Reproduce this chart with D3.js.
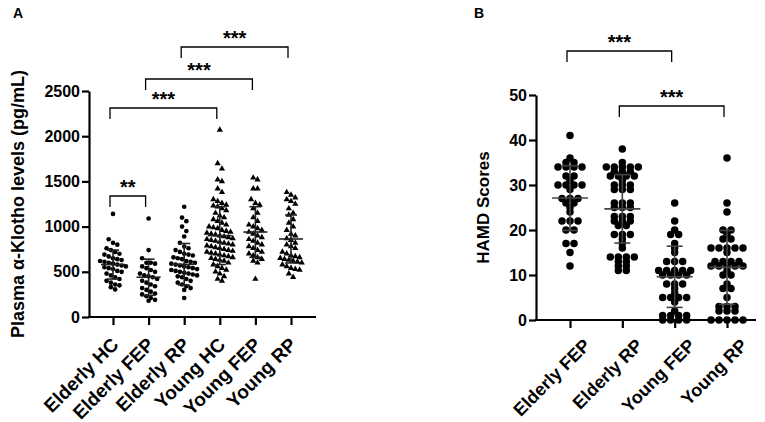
<!DOCTYPE html>
<html>
<head>
<meta charset="utf-8">
<script src="https://cdn.jsdelivr.net/npm/d3@7"></script>
<style>
body { margin: 0; background: #fff; }
#canvas { width: 765px; height: 422px; }
svg text { font-family: "Liberation Sans", Arial, sans-serif; font-weight: bold; fill: #000; }
</style>
</head>
<body>
<div id="canvas" class="canvas"></div>
<script>
//Data
//Panel A: plasma a-Klotho (pg/mL)
var groupsA = ["Elderly HC", "Elderly FEP", "Elderly RP", "Young HC", "Young FEP", "Young RP"];
var klothoElderlyHC = [1140, 860, 820, 800, 760, 740, 720, 700, 690, 670, 650, 640, 630, 620, 610, 600, 590,
	580, 570, 560, 550, 540, 530, 510, 500, 480, 460, 440, 420, 400, 380, 360, 350, 330, 305];
var klothoElderlyFEP = [1090, 740, 650, 600, 600, 590, 560, 540, 520, 500, 480, 460, 450, 440, 420, 400, 380,
	360, 340, 320, 300, 280, 260, 250, 230, 210, 190, 180];
var klothoElderlyRP = [1220, 1100, 1060, 1000, 950, 890, 820, 780, 760, 740, 720, 700, 690, 680, 660, 650, 640,
	620, 610, 600, 590, 580, 570, 560, 550, 540, 530, 520, 510, 500, 490, 480, 470, 460, 450, 440, 420, 400,
	380, 360, 340, 320, 300, 210];
var klothoYoungHC = [2070, 1700, 1640, 1520, 1500, 1420, 1380, 1300, 1280, 1260, 1240, 1230, 1220, 1200, 1180,
	1150, 1120, 1100, 1080, 1060, 1040, 1020, 1000, 990, 980, 960, 950, 940, 930, 920, 910, 900, 890, 880, 870,
	860, 850, 840, 830, 820, 810, 800, 790, 780, 770, 760, 750, 740, 730, 720, 710, 700, 690, 680, 670, 660,
	650, 640, 630, 620, 600, 580, 560, 540, 520, 500, 480, 450, 420, 400];
var klothoYoungFEP = [1540, 1520, 1420, 1420, 1300, 1260, 1240, 1200, 1150, 1100, 1060, 1020, 1000, 980, 960,
	940, 920, 900, 880, 860, 840, 820, 800, 780, 760, 740, 720, 700, 680, 660, 640, 620, 600, 420];
var klothoYoungRP = [1380, 1350, 1320, 1300, 1280, 1250, 1200, 1150, 1130, 1080, 1040, 1000, 960, 920, 900, 870,
	850, 820, 800, 780, 760, 720, 700, 680, 670, 660, 650, 640, 630, 620, 610, 600, 580, 560, 540, 530, 520,
	480, 440];
var meansA = [580, 440, 583, 900, 940, 863];
var sdsA = [160, 200, 230, 320, 280, 265];
var yTicksA = [0, 500, 1000, 1500, 2000, 2500];
var compA = [["Elderly HC", "Elderly FEP", "**"], ["Elderly HC", "Young HC", "***"],
	["Elderly FEP", "Young FEP", "***"], ["Elderly RP", "Young RP", "***"]];

//Panel B: HAMD scores
var groupsB = ["Elderly FEP", "Elderly RP", "Young FEP", "Young RP"];
var hamdElderlyFEP = [41, 36, 35, 35, 34, 34, 34, 34, 32, 32, 31, 30, 30, 30, 30, 29, 27, 27, 27, 26, 26, 25,
	24, 22, 22, 22, 20, 20, 17, 17, 15, 12];
var hamdElderlyRP = [38, 35, 34, 34, 34, 34, 34, 33, 33, 33, 32, 32, 32, 32, 31, 30, 30, 30, 29, 29, 29, 26,
	26, 26, 25, 25, 25, 23, 23, 23, 22, 22, 22, 21, 21, 19, 19, 19, 18, 17, 16, 14, 14, 14, 14, 13, 13, 12, 12,
	11, 11];
var hamdYoungFEP = [26, 22, 20, 19, 19, 17, 16, 15, 13, 13, 13, 11, 11, 11, 11, 11, 10, 10, 10, 10, 8, 8, 8, 7,
	6, 5, 5, 5, 5, 4, 2, 1, 1, 1, 1, 0, 0, 0, 0];
var hamdYoungRP = [36, 26, 24, 20, 20, 19, 18, 18, 16, 16, 16, 16, 16, 15, 13, 13, 13, 13, 12, 12, 12, 12, 12,
	11, 10, 10, 8, 7, 7, 5, 3, 3, 3, 2, 2, 2, 0, 0, 0, 0, 0];
var meansB = [27.1, 24.7, 9.6, 11.7];
var sdsB = [7.2, 7.6, 6.8, 8.2];
var yTicksB = [0, 10, 20, 30, 40, 50];
var compB = [["Elderly FEP", "Young FEP", "***"], ["Elderly RP", "Young RP", "***"]];

var valuesA = [klothoElderlyHC, klothoElderlyFEP, klothoElderlyRP, klothoYoungHC, klothoYoungFEP, klothoYoungRP];
var valuesB = [hamdElderlyFEP, hamdElderlyRP, hamdYoungFEP, hamdYoungRP];

var w = 765, h = 422;

var paper = d3.select(".canvas")
	.append("svg")
	.attr("width", w)
	.attr("height", h);

//column scatter like Prism: points that fall in the same pixel row sit side by side, centred
function columnScatter(values, y, cx, step, binH) {
	var rows = [], cur = null, out = [];
	values.slice().sort(d3.descending).forEach(function(v) {
		var py = y(v);
		if (!cur || py - cur.y0 > binH) {
			cur = {y0: py, pts: []};
			rows.push(cur);
		}
		cur.pts.push(py);
	});
	rows.forEach(function(r, ri) {
		var n = r.pts.length;
		r.pts.forEach(function(py, j) {
			out.push({x: cx + (j - (n - 1) / 2) * step, y: py});
		});
	});
	return out;
}

function drawPanel(o) {
	var g = paper.append("g");

	//axes
	var yAxis = g.append("g")
		.attr("transform", "translate(" + o.left + ",0)")
		.call(d3.axisLeft(o.y).tickValues(o.ticks).tickSize(7).tickSizeOuter(0).tickPadding(2).tickFormat(d3.format("d")));
	var xAxis = g.append("g")
		.attr("transform", "translate(0," + o.y(0) + ")")
		.call(d3.axisBottom(o.x).tickSize(8).tickSizeOuter(0).tickFormat(""));
	xAxis.select(".domain").remove();
	g.append("line")
		.attr("x1", o.left - 1)
		.attr("x2", o.right)
		.attr("y1", o.y(0))
		.attr("y2", o.y(0))
		.style("stroke", "#000")
		.style("stroke-width", "2.2px");
	g.selectAll(".domain, .tick line").style("stroke", "#000").style("stroke-width", "2.2px");
	yAxis.selectAll(".tick text").style("font-size", "16px");

	//category labels
	g.selectAll(".cat")
		.data(o.groups)
		.enter()
		.append("text")
		.attr("class", "cat")
		.attr("transform", function(d) { return "translate(" + (o.x(d) + o.labelDx) + "," + (o.y(0) + o.labelDy) + ") rotate(-45)"; })
		.attr("text-anchor", "end")
		.attr("dy", "0.35em")
		.style("font-size", o.labelSize)
		.text(function(d) { return d; });

	//y title
	g.append("text")
		.attr("transform", "translate(" + o.titleX + "," + (o.y.range()[0] + o.y.range()[1]) / 2 + ") rotate(-90)")
		.attr("text-anchor", "middle")
		.attr("dy", "0.35em")
		.style("font-size", o.titleSize)
		.text(o.title);

	//panel letter
	g.append("text")
		.attr("x", o.letterX)
		.attr("y", 18)
		.style("font-size", "14px")
		.text(o.letter);

	//points
	o.groups.forEach(function(name, i) {
		var pts = columnScatter(o.values[i], o.y, o.x(name), o.step, o.binH);
		var shape = o.shape(i);
		g.selectAll(".p" + i)
			.data(pts)
			.enter()
			.append("path")
			.attr("d", d3.symbol().type(shape).size(shape === d3.symbolTriangle ? o.triSize : o.dotSize))
			.attr("transform", function(d) { return "translate(" + d.x + "," + d.y + ")"; })
			.style("fill", "#000");

		//mean and SD
		var cx = o.x(name), m = o.means[i], s = o.sds[i];
		var err = g.append("g").style("stroke", o.barColor).style("stroke-width", "1.6px");
		err.append("line")
			.attr("x1", cx).attr("x2", cx)
			.attr("y1", o.y(m - s)).attr("y2", o.y(m + s));
		err.append("line")
			.attr("x1", cx - o.meanHalf).attr("x2", cx + o.meanHalf)
			.attr("y1", o.y(m)).attr("y2", o.y(m));
		[m - s, m + s].forEach(function(v) {
			err.append("line")
				.attr("x1", cx - o.capHalf).attr("x2", cx + o.capHalf)
				.attr("y1", o.y(v)).attr("y2", o.y(v));
		});
	});

	//significance brackets
	o.comps.forEach(function(c, i) {
		var x1 = o.x(c[0]) - 3, x2 = o.x(c[1]) - 3, top = o.bracketY[i];
		g.append("path")
			.attr("d", "M" + x1 + "," + (top + 11) + "V" + top + "H" + x2 + "V" + (top + 11))
			.style("fill", "none")
			.style("stroke", "#000")
			.style("stroke-width", "1.3px");
		g.append("text")
			.attr("x", (x1 + x2) / 2)
			.attr("y", top - 2)
			.attr("text-anchor", "middle")
			.style("font-size", "20px")
			.text(c[2]);
	});
}

//Panel A
drawPanel({
	groups: groupsA, values: valuesA, means: meansA, sds: sdsA, ticks: yTicksA, comps: compA,
	x: d3.scalePoint().domain(groupsA).range([113, 291]),
	y: d3.scaleLinear().domain([0, 2500]).range([317, 91]),
	left: 89, right: 316,
	title: "Plasma \u03b1-Klotho levels (pg/mL)", titleX: 18, titleSize: "18px",
	letter: "A", letterX: 13,
	labelDx: 2, labelDy: 24, labelSize: "19px",
	shape: function(i) { return i < 3 ? d3.symbolCircle : d3.symbolTriangle; },
	dotSize: 17, triSize: 17, step: 4.3, binH: 5.5,
	meanHalf: 12, capHalf: 6, barColor: "#222",
	bracketY: [196, 108, 79, 47]
});

//Panel B
drawPanel({
	groups: groupsB, values: valuesB, means: meansB, sds: sdsB, ticks: yTicksB, comps: compB,
	x: d3.scalePoint().domain(groupsB).range([570, 727]),
	y: d3.scaleLinear().domain([0, 50]).range([320, 95]),
	left: 536, right: 756,
	title: "HAMD Scores", titleX: 483, titleSize: "17px",
	letter: "B", letterX: 474,
	labelDx: 17, labelDy: 22, labelSize: "18px",
	shape: function() { return d3.symbolCircle; },
	dotSize: 44, triSize: 44, step: 8, binH: 1,
	meanHalf: 18, capHalf: 8, barColor: "#444",
	bracketY: [51, 106]
});
</script>
</body>
</html>
